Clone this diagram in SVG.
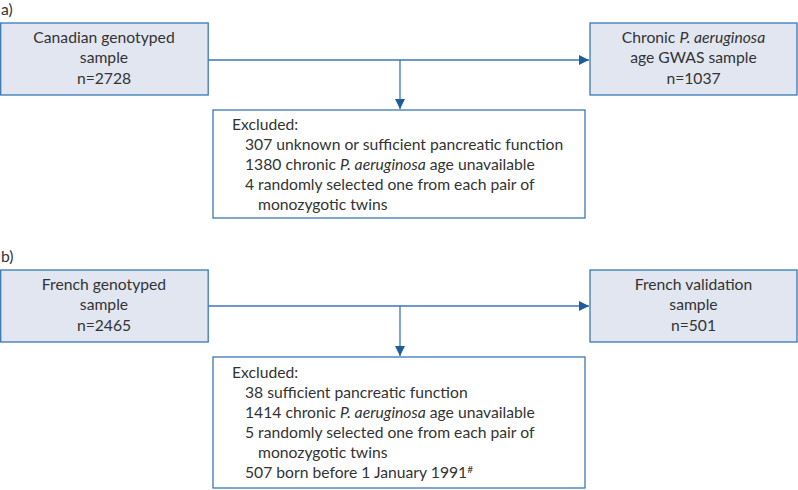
<svg xmlns="http://www.w3.org/2000/svg" width="798" height="490" viewBox="0 0 798 490">
<style>
text{font-family:Lato,"Source Sans Pro","Noto Sans",sans-serif;font-size:15.7px;fill:#333}
.c{text-anchor:middle}
.box{fill:#e1e6f1;stroke:#3a78b5;stroke-width:1.3}
.ex{fill:#fff;stroke:#3a78b5;stroke-width:1.3}
.ln{fill:none;stroke:#3a78b5;stroke-width:1.3}
</style>
<defs>
<marker id="ah" viewBox="0 0 10 10" refX="10" refY="5" markerWidth="10" markerHeight="10" markerUnits="userSpaceOnUse" orient="auto">
<path d="M0,0 L10,5 L0,10 z" fill="#1f5c9c"/>
</marker>
</defs>
<text x="1" y="15">a)</text>
<text x="1" y="262">b)</text>
<g id="connectors">
<path class="ln" d="M208,60 H589" marker-end="url(#ah)"/>
<path class="ln" d="M400,60 V109" marker-end="url(#ah)"/>
<path class="ln" d="M208,306 H589" marker-end="url(#ah)"/>
<path class="ln" d="M400,306 V356" marker-end="url(#ah)"/>
</g>
<g id="canadian">
<rect class="box" x="0.7" y="23" width="207.5" height="72"/>
<text class="c" x="104" y="43">Canadian genotyped</text>
<text class="c" x="104" y="63">sample</text>
<text class="c" x="104" y="84">n=2728</text>
</g>
<g id="gwas">
<rect class="box" x="590" y="23" width="207" height="72"/>
<text class="c" x="693.5" y="43">Chronic <tspan font-style="italic">P. aeruginosa</tspan></text>
<text class="c" x="693.5" y="63">age GWAS sample</text>
<text class="c" x="693.5" y="84">n=1037</text>
</g>
<g id="excluded-a">
<rect class="ex" x="213" y="110" width="372" height="108"/>
<text x="232" y="130">Excluded:</text>
<text x="245" y="150">307 unknown or sufficient pancreatic function</text>
<text x="245" y="170">1380 chronic <tspan font-style="italic">P. aeruginosa</tspan> age unavailable</text>
<text x="245" y="190">4 randomly selected one from each pair of</text>
<text x="258" y="210">monozygotic twins</text>
</g>
<g id="french">
<rect class="box" x="0.7" y="270" width="207.5" height="72"/>
<text class="c" x="104" y="290">French genotyped</text>
<text class="c" x="104" y="310">sample</text>
<text class="c" x="104" y="331">n=2465</text>
</g>
<g id="validation">
<rect class="box" x="590" y="270" width="207" height="72"/>
<text class="c" x="693.5" y="290">French validation</text>
<text class="c" x="693.5" y="310">sample</text>
<text class="c" x="693.5" y="331">n=501</text>
</g>
<g id="excluded-b">
<rect class="ex" x="213" y="357" width="372" height="131"/>
<text x="232" y="378">Excluded:</text>
<text x="245" y="398">38 sufficient pancreatic function</text>
<text x="245" y="418">1414 chronic <tspan font-style="italic">P. aeruginosa</tspan> age unavailable</text>
<text x="245" y="438">5 randomly selected one from each pair of</text>
<text x="258" y="458">monozygotic twins</text>
<text x="245" y="478">507 born before 1 January 1991<tspan font-size="10" dy="-5">#</tspan></text>
</g>
</svg>
